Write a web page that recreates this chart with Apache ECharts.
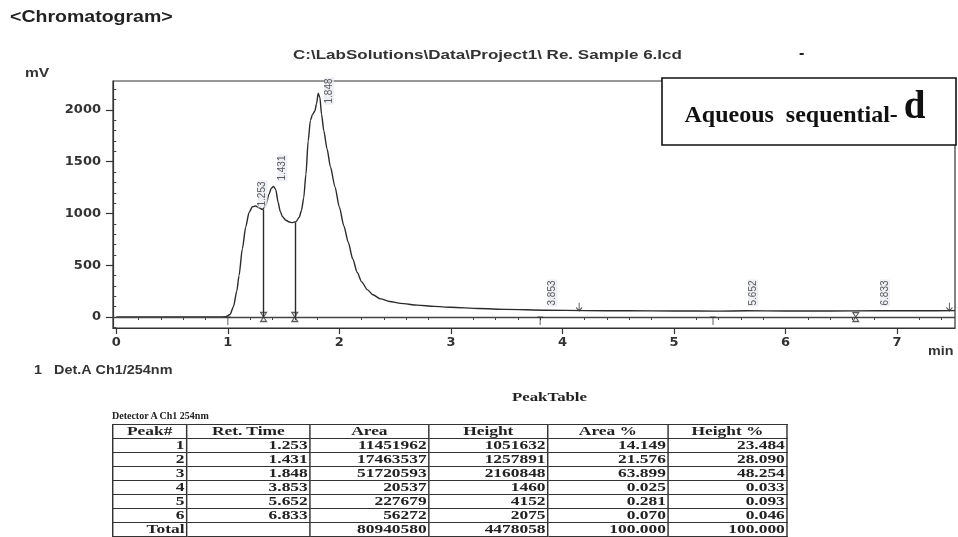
<!DOCTYPE html>
<html><head><meta charset="utf-8">
<script src="https://cdn.jsdelivr.net/npm/echarts@6/dist/echarts.min.js"></script>
<style>
html,body{margin:0;padding:0;background:#fff;width:958px;height:537px;overflow:hidden;}
#chart{position:absolute;left:0;top:0;width:958px;height:537px;}
.lbl{position:absolute;font-family:"Liberation Serif","Times New Roman",serif;font-weight:bold;color:#222;white-space:nowrap;transform-origin:0 0;}
#ptitle{left:512px;top:390px;font-size:12px;transform:scaleX(1.4);}
#det{left:112px;top:410px;font-size:10px;}
#tbl{position:absolute;left:112px;top:424px;transform:scaleX(1.45);transform-origin:0 0;}
#tbl table{border-collapse:collapse;font-family:"Liberation Serif","Times New Roman",serif;font-size:12px;font-weight:bold;color:#222;}
#tbl td,#tbl th{border:1px solid #333;height:13px;line-height:13px;padding:0 1px;text-align:right;white-space:nowrap;}
#tbl th{text-align:center;font-weight:bold;}
</style></head>
<body>
<div id="chart"></div>
<div id="ptitle" class="lbl">PeakTable</div>
<div id="det" class="lbl">Detector A Ch1 254nm</div>
<div id="tbl"></div>
<script>
// ---- chromatogram signal (min, mV) ----
const timeMin = [0, 0.5, 0.9, 0.98, 1.02, 1.05, 1.08, 1.10, 1.13, 1.16, 1.19, 1.22, 1.25, 1.28, 1.31, 1.34, 1.37, 1.39, 1.41, 1.43, 1.45, 1.47, 1.49, 1.52, 1.55, 1.58, 1.61, 1.64, 1.66, 1.68, 1.70, 1.72, 1.74, 1.76, 1.78, 1.795, 1.81, 1.825, 1.84, 1.86, 1.89, 1.92, 1.96, 2.00, 2.04, 2.08, 2.12, 2.16, 2.20, 2.25, 2.30, 2.37, 2.45, 2.55, 2.70, 2.85, 3.00, 3.25, 3.50, 3.85, 4.20, 4.60, 5.00, 5.40, 5.65, 6.00, 6.40, 6.83, 7.20, 7.52];
const signalMv = [0, 0, 0, 2, 25, 100, 250, 400, 660, 870, 1010, 1065, 1072, 1055, 1038, 1080, 1190, 1245, 1262, 1230, 1110, 1020, 968, 935, 918, 912, 920, 965, 1030, 1150, 1380, 1700, 1900, 1960, 1990, 2060, 2162, 2120, 1960, 1800, 1620, 1450, 1260, 1060, 880, 720, 560, 430, 340, 265, 215, 175, 150, 132, 115, 103, 94, 82, 74, 66, 62, 60, 58, 57, 60, 58, 58, 60, 60, 62];

// peak labels: retention time and the mV level where each label starts
const peakRT = [1.253, 1.431, 1.848, 3.853, 5.652, 6.833];
const peakLabelMv = [1053, 1304, 2048, 97, 97, 97];

// vertical drop lines between fused peaks
const dropRT = [1.32, 1.60];
const dropMv = [1038, 914];

// integration event markers
const markerRT = [1.00, 1.32, 1.60, 3.80, 4.15, 5.35, 6.63, 7.47];
const markerKind = ['T', 'X', 'X', 'T', 'A', 'T', 'X', 'A'];

// axes
const xTickValues = [0, 1, 2, 3, 4, 5, 6, 7];
const xMinorValues = [0.2, 0.4, 0.6, 0.8, 1.2, 1.4, 1.6, 1.8, 2.2, 2.4, 2.6, 2.8, 3.2, 3.4, 3.6, 3.8, 4.2, 4.4, 4.6, 4.8, 5.2, 5.4, 5.6, 5.8, 6.2, 6.4, 6.6, 6.8, 7.2, 7.4];
const yTickValues = [0, 500, 1000, 1500, 2000];
const yMinorValues = [-100, 100, 200, 300, 400, 600, 700, 800, 900, 1100, 1200, 1300, 1400, 1600, 1700, 1800, 1900, 2100, 2200];

// peak table
const tableHeaders = ['Peak#', 'Ret. Time', 'Area', 'Height', 'Area %', 'Height %'];
const peakNo = ['1', '2', '3', '4', '5', '6'];
const retTime = ['1.253', '1.431', '1.848', '3.853', '5.652', '6.833'];
const areaVals = ['11451962', '17463537', '51720593', '20537', '227679', '56272'];
const heightVals = ['1051632', '1257891', '2160848', '1460', '4152', '2075'];
const areaPct = ['14.149', '21.576', '63.899', '0.025', '0.281', '0.070'];
const heightPct = ['23.484', '28.090', '48.254', '0.033', '0.093', '0.046'];
const totalRow = ['Total', '', '80940580', '4478058', '100.000', '100.000'];

// ---- build table ----
(function () {
  const widths = [48, 82, 79, 79, 80, 79];
  let h = '<table><tr>' + tableHeaders.map((t, i) => '<th style="width:' + widths[i] + 'px">' + t + '</th>').join('') + '</tr>';
  for (let i = 0; i < peakNo.length; i++) {
    h += '<tr>' + [peakNo[i], retTime[i], areaVals[i], heightVals[i], areaPct[i], heightPct[i]].map(v => '<td>' + v + '</td>').join('') + '</tr>';
  }
  h += '<tr>' + totalRow.map(v => '<td>' + v + '</td>').join('') + '</tr></table>';
  document.getElementById('tbl').innerHTML = h;
})();

// ---- chart ----
const chart = echarts.init(document.getElementById('chart'), null, { renderer: 'canvas' });
const ink = '#2b2b2b';
const axisFont = { fontFamily: 'DejaVu Sans', fontWeight: 'bold', fontSize: 13, color: '#333' };

const signalData = timeMin.map((t, i) => [t, signalMv[i]]);
const labelData = peakRT.map((t, i) => [t, peakLabelMv[i]]);
const markerPaths = {
  T: 'path://M0,0 L10,0 M5,0 L5,12',
  X: 'path://M0,0 L10,0 L0,12 L10,12 Z',
  A: 'path://M5,0 L5,12 M1,7 L5,12 L9,7'
};
const markerData = markerRT.map((t, i) => ({
  value: [t, markerKind[i] === 'A' ? 60 : 0],
  symbol: markerPaths[markerKind[i]],
  symbolSize: markerKind[i] === 'X' ? [6, 9] : [6, 8],
  symbolOffset: markerKind[i] === 'T' ? [0, 4] : (markerKind[i] === 'A' ? [0, -4] : [0, 0])
}));
const dropLines = dropRT.map((t, i) => [{ coord: [t, 0] }, { coord: [t, dropMv[i]] }]);

const option = {
  animation: false,
  backgroundColor: 'transparent',
  grid: { left: 113, right: 3, top: 81, bottom: 209, show: true, borderColor: '#333', borderWidth: 1.2, backgroundColor: 'transparent' },
  xAxis: [{
    type: 'value', min: -0.03, max: 7.52, position: 'bottom',
    axisLine: { show: true, onZero: false, lineStyle: { color: '#333', width: 1.2 } },
    axisTick: { show: true, customValues: xTickValues, length: 6, lineStyle: { color: '#333', width: 1.2 } },
    axisLabel: Object.assign({ customValues: xTickValues, margin: 8, formatter: v => String(v) }, axisFont),
    splitLine: { show: false }
  }, {
    type: 'value', min: -0.03, max: 7.52, position: 'bottom',
    axisLine: { show: false },
    axisTick: { show: true, customValues: xMinorValues, length: 3, lineStyle: { color: '#444', width: 1 } },
    axisLabel: { show: false },
    splitLine: { show: false }
  }],
  yAxis: [{
    type: 'value', min: -106, max: 2280, position: 'left',
    axisLine: { show: true, onZero: false, lineStyle: { color: '#333', width: 1.2 } },
    axisTick: { show: true, customValues: yTickValues, length: 7, lineStyle: { color: '#333', width: 1.2 } },
    axisLabel: Object.assign({ customValues: yTickValues, margin: 12, formatter: v => String(v) }, axisFont),
    splitLine: { show: false }
  }, {
    type: 'value', min: -106, max: 2280, position: 'left',
    axisLine: { show: false },
    axisTick: { show: true, customValues: yMinorValues, length: 3, lineStyle: { color: '#444', width: 1 } },
    axisLabel: { show: false },
    splitLine: { show: false }
  }],
  series: [{
    type: 'line', data: signalData, showSymbol: false, smooth: 0.25, smoothMonotone: 'x',
    lineStyle: { color: ink, width: 1.4 }, z: 3,
    markLine: {
      silent: true, symbol: 'none', label: { show: false },
      data: [{ yAxis: 0, lineStyle: { color: '#444', width: 1.3, type: 'solid' } }].concat(dropLines),
      lineStyle: { color: ink, width: 1.4, type: 'solid' }
    }
  }, {
    type: 'scatter', data: labelData, symbol: 'rect', symbolSize: 1,
    itemStyle: { color: 'transparent' }, z: 4,
    label: {
      show: true, position: [7, 0], rotate: 90, align: 'left', verticalAlign: 'middle',
      formatter: p => p.value[0].toFixed(3),
      fontFamily: 'Liberation Sans', fontSize: 10, color: '#333',
      backgroundColor: '#e9ebf1', padding: [0, 1]
    }
  }, {
    type: 'scatter', data: markerData, z: 5,
    itemStyle: { color: 'transparent', borderColor: '#333', borderWidth: 1.1 }
  }],
  graphic: [
    { type: 'text', left: 10, top: 10, scaleX: 1.22, style: { text: '<Chromatogram>', font: 'bold 16px "Liberation Sans"', fill: '#222' } },
    { type: 'text', x: 293, y: 55, scaleX: 1.31, style: { text: 'C:\\LabSolutions\\Data\\Project1\\ Re. Sample 6.lcd', font: 'bold 13px "Liberation Sans"', fill: '#333', verticalAlign: 'middle' } },
    { type: 'text', x: 799, y: 54, style: { text: '-', font: 'bold 16px "Liberation Sans"', fill: '#222', verticalAlign: 'middle' } },
    { type: 'text', x: 25, y: 73, scaleX: 1.2, style: { text: 'mV', font: 'bold 13px "Liberation Sans"', fill: '#333', verticalAlign: 'middle' } },
    { type: 'text', x: 928, y: 351, scaleX: 1.1, style: { text: 'min', font: 'bold 13px "Liberation Sans"', fill: '#333', verticalAlign: 'middle' } },
    { type: 'text', x: 34, y: 371, scaleX: 1.2, style: { text: '1   Det.A Ch1/254nm', font: 'bold 12px "Liberation Sans"', fill: '#333', verticalAlign: 'middle' } },
    { type: 'rect', z: 100, shape: { x: 662, y: 78, width: 294, height: 67 }, style: { fill: '#fff', stroke: '#111', lineWidth: 1.6 } },
    { type: 'text', z: 101, x: 805, y: 108, style: {
        text: '{a|Aqueous  sequential- }{b|d}', align: 'center', verticalAlign: 'middle',
        rich: { a: { font: 'bold 24px "Liberation Serif"', fill: '#111', verticalAlign: 'bottom' }, b: { font: 'bold 39px "Liberation Serif"', fill: '#111', verticalAlign: 'bottom' } }
      } }
  ]
};
chart.setOption(option);
</script>
</body></html>
